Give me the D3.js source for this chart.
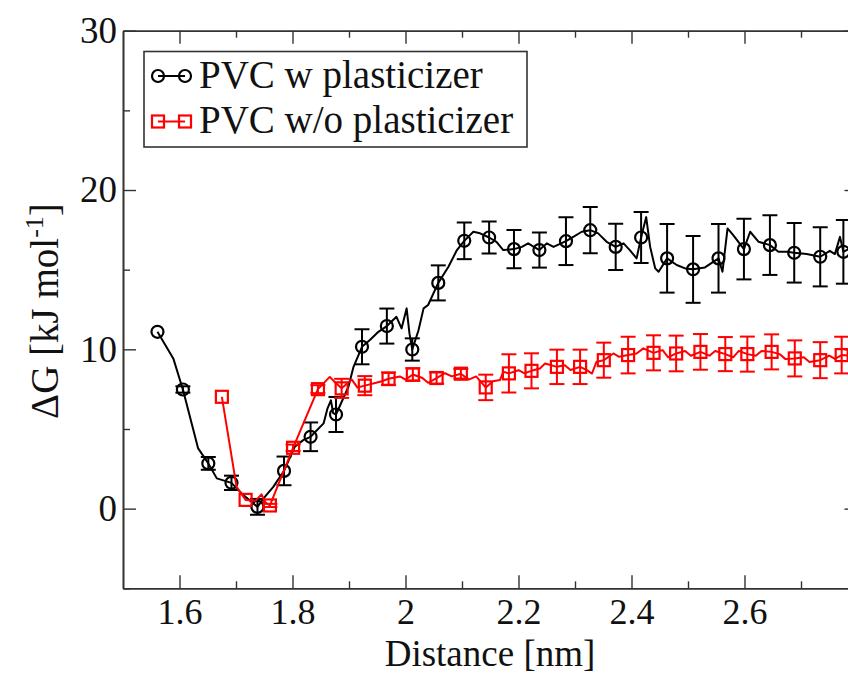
<!DOCTYPE html>
<html>
<head>
<meta charset="utf-8">
<script src="https://cdn.jsdelivr.net/npm/d3@7/dist/d3.min.js"></script>
<style>
  html, body { margin: 0; padding: 0; background: #fff; }
  svg { display: block; }
  svg text { font-family: 'Liberation Serif', 'DejaVu Serif', serif !important; fill: #111; }
</style>
</head>
<body>
<svg id="chart" width="848" height="689"></svg>
<script>
// ---- PVC with plasticizer: sampled points with error bars ----
const wDist = [1.561, 1.606, 1.651, 1.692, 1.738, 1.785, 1.832, 1.877, 1.923, 1.967, 2.012, 2.058, 2.104, 2.148,
               2.192, 2.237, 2.284, 2.327, 2.372, 2.417, 2.463, 2.509, 2.554, 2.599, 2.645, 2.688, 2.734, 2.775];
const wDG   = [11.10, 7.48, 2.84, 1.62, 0.11, 2.37, 4.51, 5.91, 10.16, 11.46, 9.99, 14.17, 16.81, 17.02,
               16.29, 16.23, 16.79, 17.48, 16.43, 17.02, 15.71, 15.02, 15.71, 16.29, 16.54, 16.06, 15.81, 16.12];
const wErr  = [0, 0.2, 0.4, 0.45, 0.5, 0.9, 0.9, 1.1, 1.1, 1.1, 0.7, 1.1, 1.15, 1.0,
               1.2, 1.1, 1.5, 1.45, 1.45, 1.6, 2.15, 2.1, 2.15, 1.9, 1.87, 1.87, 1.86, 2.0];
// full-resolution profile samples between the marked points
const wCurveDist = [1.589, 1.633, 1.666, 1.713, 1.751, 1.766, 1.804, 1.819, 1.855, 1.862, 1.868, 1.872,
                    1.899, 1.908, 1.937, 1.952, 1.984, 1.993, 2.002, 2.007, 2.023, 2.032, 2.040, 2.076, 2.091,
                    2.120, 2.132, 2.161, 2.173, 2.206, 2.217, 2.250, 2.262, 2.297, 2.312, 2.341, 2.356, 2.386,
                    2.397, 2.409, 2.426, 2.433, 2.442, 2.448, 2.480, 2.495, 2.530, 2.561, 2.570, 2.580, 2.610,
                    2.625, 2.660, 2.675, 2.710, 2.751, 2.760, 2.769, 2.785, 2.795];
const wCurveDG   = [9.43, 3.78, 1.90, 0.85, 0.74, 1.37, 3.88, 4.30, 5.35, 6.30, 6.80, 6.00,
                    7.65, 8.90, 10.58, 11.10, 12.04, 11.31, 12.57, 11.00, 11.20, 12.57, 12.78, 15.18, 16.23,
                    17.38, 17.28, 16.75, 16.23, 16.43, 16.65, 16.65, 16.43, 17.06, 17.38, 17.28, 16.75, 16.65,
                    16.23, 15.71, 18.30, 16.43, 15.08, 14.87, 15.29, 15.08, 15.14, 14.87, 17.59, 17.17, 17.38,
                    16.75, 16.12, 16.12, 15.98, 16.18, 15.98, 17.06, 16.30, 16.00];

// ---- PVC without plasticizer ----
const woDist = [1.675, 1.717, 1.760, 1.801, 1.845, 1.887, 1.928, 1.970, 2.013, 2.055, 2.098, 2.142, 2.183, 2.223,
                2.268, 2.309, 2.351, 2.394, 2.439, 2.479, 2.522, 2.566, 2.605, 2.648, 2.689, 2.734, 2.772];
const woDG   = [7.02, 0.55, 0.20, 3.82, 7.50, 7.55, 7.72, 8.15, 8.42, 8.20, 8.47, 7.61, 8.49, 8.65,
                8.90, 8.90, 9.32, 9.64, 9.78, 9.74, 9.84, 9.70, 9.70, 9.84, 9.43, 9.32, 9.64];
const woErr  = [0, 0, 0.1, 0.2, 0.25, 0.6, 0.6, 0.4, 0.4, 0.35, 0.3, 0.8, 1.2, 1.1,
                1.08, 1.08, 1.1, 1.15, 1.1, 1.12, 1.12, 1.07, 1.1, 1.1, 1.13, 1.13, 1.15];
const woCurveDist = [1.701, 1.735, 1.745, 1.752, 1.866, 1.876, 1.905, 1.915, 1.948, 1.958, 1.990, 2.000,
                     2.030, 2.040, 2.070, 2.082, 2.112, 2.125, 2.155, 2.167, 2.173, 2.200, 2.210, 2.238, 2.247,
                     2.282, 2.292, 2.321, 2.330, 2.338, 2.368, 2.378, 2.409, 2.421, 2.455, 2.465, 2.495, 2.505,
                     2.538, 2.548, 2.580, 2.590, 2.620, 2.630, 2.662, 2.672, 2.705, 2.715, 2.750, 2.760, 2.785];
const woCurveDG   = [1.37, 0.50, 0.90, 0.40, 8.27, 7.90, 8.10, 7.60, 7.90, 8.00, 8.30, 8.10,
                     8.20, 7.90, 8.50, 8.30, 8.10, 8.30, 8.00, 8.07, 8.59, 8.69, 8.50, 8.80, 9.11,
                     9.00, 8.70, 8.69, 8.48, 9.22, 9.74, 9.53, 9.74, 10.06, 9.95, 9.50, 9.90, 9.60,
                     9.60, 9.90, 9.50, 9.90, 9.60, 9.90, 9.70, 9.40, 9.50, 9.20, 9.60, 9.40, 9.60];

const xTicks = [1.6, 1.8, 2.0, 2.2, 2.4, 2.6, 2.8];
const xTickLabels = ["1.6", "1.8", "2", "2.2", "2.4", "2.6", ""];
const xMinor = [1.7, 1.9, 2.1, 2.3, 2.5, 2.7];
const yTicks = [0, 10, 20, 30];
const yMinor = [-5, 5, 15, 25];

const seriesNames = ["PVC w plasticizer", "PVC w/o plasticizer"];
const seriesColors = ["#000000", "#ff0000"];

// ---- layout ----
const svg = d3.select("#chart");
const plotLeft = 123, plotRight = 857.5, plotTop = 30.7, plotBottom = 588.3;
const serif = "'Liberation Serif', 'DejaVu Serif', serif";

const x = d3.scaleLinear().domain([1.5, 2.8]).range([plotLeft, plotRight]);
const y = d3.scaleLinear().domain([-5, 30]).range([plotBottom, plotTop]);

const zip = (xs, ys) => xs.map((v, i) => ({ x: v, y: ys[i] }));
const merge = (a, b) => a.concat(b).sort((p, q) => p.x - q.x);

const wMarks = wDist.map((v, i) => ({ x: v, y: wDG[i], e: wErr[i] }));
const woMarks = woDist.map((v, i) => ({ x: v, y: woDG[i], e: woErr[i] }));
const wLine = merge(zip(wDist, wDG), zip(wCurveDist, wCurveDG));
const woLine = merge(zip(woDist, woDG), zip(woCurveDist, woCurveDG));

svg.append("defs").append("clipPath").attr("id", "plot")
  .append("rect").attr("x", plotLeft).attr("y", plotTop)
  .attr("width", plotRight - plotLeft).attr("height", plotBottom - plotTop);

// ---- axes (ticks drawn inward on all four sides) ----
const axisColor = "#333";
const xFmt = (d, i) => xTickLabels[i];

function styleAxis(g) {
  g.attr("font-family", serif);
  g.select(".domain").attr("stroke", axisColor).attr("stroke-width", 1.6);
  g.selectAll(".tick line").attr("stroke", axisColor).attr("stroke-width", 1.4);
  g.selectAll("text").style("font-family", serif).attr("font-size", 37).attr("fill", "#111");
}

svg.append("g").attr("transform", `translate(0,${plotBottom})`)
  .call(d3.axisBottom(x).tickValues(xTicks).tickSizeInner(-13).tickSizeOuter(0).tickPadding(10).tickFormat(xFmt))
  .call(styleAxis)
  .call(g => g.selectAll("text").attr("font-size", 36));
svg.append("g").attr("transform", `translate(0,${plotBottom})`)
  .call(d3.axisBottom(x).tickValues(xMinor).tickSizeInner(-7).tickSizeOuter(0).tickFormat(""))
  .call(styleAxis);
svg.append("g").attr("transform", `translate(0,${plotTop})`)
  .call(d3.axisTop(x).tickValues(xTicks).tickSizeInner(-13).tickSizeOuter(0).tickFormat(""))
  .call(styleAxis);
svg.append("g").attr("transform", `translate(0,${plotTop})`)
  .call(d3.axisTop(x).tickValues(xMinor).tickSizeInner(-7).tickSizeOuter(0).tickFormat(""))
  .call(styleAxis);
svg.append("g").attr("transform", `translate(${plotLeft},0)`)
  .call(d3.axisLeft(y).tickValues(yTicks).tickSizeInner(-13).tickSizeOuter(0).tickPadding(6))
  .call(styleAxis);
svg.append("g").attr("transform", `translate(${plotLeft},0)`)
  .call(d3.axisLeft(y).tickValues(yMinor).tickSizeInner(-7).tickSizeOuter(0).tickFormat(""))
  .call(styleAxis);
svg.append("g").attr("transform", `translate(${plotRight},0)`)
  .call(d3.axisRight(y).tickValues(yTicks).tickSizeInner(-13).tickSizeOuter(0).tickFormat(""))
  .call(styleAxis);
svg.append("g").attr("transform", `translate(${plotRight},0)`)
  .call(d3.axisRight(y).tickValues(yMinor).tickSizeInner(-7).tickSizeOuter(0).tickFormat(""))
  .call(styleAxis);

// ---- axis titles ----
svg.append("text").attr("x", 490).attr("y", 666).attr("text-anchor", "middle")
  .style("font-family", serif).attr("font-size", 37).text("Distance [nm]");

const yTitle = svg.append("text")
  .attr("transform", "translate(58,311) rotate(-90)")
  .attr("text-anchor", "middle").style("font-family", serif).attr("font-size", 39);
yTitle.append("tspan").text("ΔG [kJ mol");
yTitle.append("tspan").attr("dy", -15).attr("font-size", 26).text("-1");
yTitle.append("tspan").attr("dy", 15).text("]");

// ---- series ----
const plot = svg.append("g").attr("clip-path", "url(#plot)");
const line = d3.line().x(d => x(d.x)).y(d => y(d.y));

function drawSeries(lineData, marks, color, shape) {
  const g = plot.append("g");
  g.append("path").datum(lineData).attr("d", line)
    .attr("fill", "none").attr("stroke", color).attr("stroke-width", 2).attr("stroke-linejoin", "round");

  const eb = g.append("g").selectAll("g").data(marks.filter(d => d.e > 0)).join("g")
    .attr("stroke", color).attr("stroke-width", 2);
  eb.append("line").attr("x1", d => x(d.x)).attr("x2", d => x(d.x))
    .attr("y1", d => y(d.y + d.e)).attr("y2", d => y(d.y - d.e));
  eb.append("line").attr("x1", d => x(d.x) - 7.5).attr("x2", d => x(d.x) + 7.5)
    .attr("y1", d => y(d.y + d.e)).attr("y2", d => y(d.y + d.e));
  eb.append("line").attr("x1", d => x(d.x) - 7.5).attr("x2", d => x(d.x) + 7.5)
    .attr("y1", d => y(d.y - d.e)).attr("y2", d => y(d.y - d.e));

  if (shape === "circle") {
    g.append("g").selectAll("circle").data(marks).join("circle")
      .attr("cx", d => x(d.x)).attr("cy", d => y(d.y)).attr("r", 6)
      .attr("fill", "none").attr("stroke", color).attr("stroke-width", 2.2);
  } else {
    g.append("g").selectAll("rect").data(marks).join("rect")
      .attr("x", d => x(d.x) - 6).attr("y", d => y(d.y) - 6).attr("width", 12).attr("height", 12)
      .attr("fill", "none").attr("stroke", color).attr("stroke-width", 2.2);
  }
}

drawSeries(wLine, wMarks, seriesColors[0], "circle");
drawSeries(woLine, woMarks, seriesColors[1], "square");

// ---- legend ----
const legend = svg.append("g");
legend.append("rect").attr("x", 144).attr("y", 51.5).attr("width", 383).attr("height", 95.5)
  .attr("fill", "#fff").attr("stroke", axisColor).attr("stroke-width", 1.6);

seriesNames.forEach((name, i) => {
  const cy = 76 + i * 45.5;
  const row = legend.append("g");
  row.append("line").attr("x1", 158).attr("x2", 185).attr("y1", cy).attr("y2", cy)
    .attr("stroke", seriesColors[i]).attr("stroke-width", 2);
  [158, 185].forEach(cx => {
    if (i === 0) {
      row.append("circle").attr("cx", cx).attr("cy", cy).attr("r", 6)
        .attr("fill", "none").attr("stroke", seriesColors[i]).attr("stroke-width", 2.2);
    } else {
      row.append("rect").attr("x", cx - 6).attr("y", cy - 6).attr("width", 12).attr("height", 12)
        .attr("fill", "none").attr("stroke", seriesColors[i]).attr("stroke-width", 2.2);
    }
  });
  row.append("text").attr("x", 199).attr("y", cy + 11.5).style("font-family", serif)
    .attr("font-size", 39).text(name);
});
</script>
</body>
</html>
